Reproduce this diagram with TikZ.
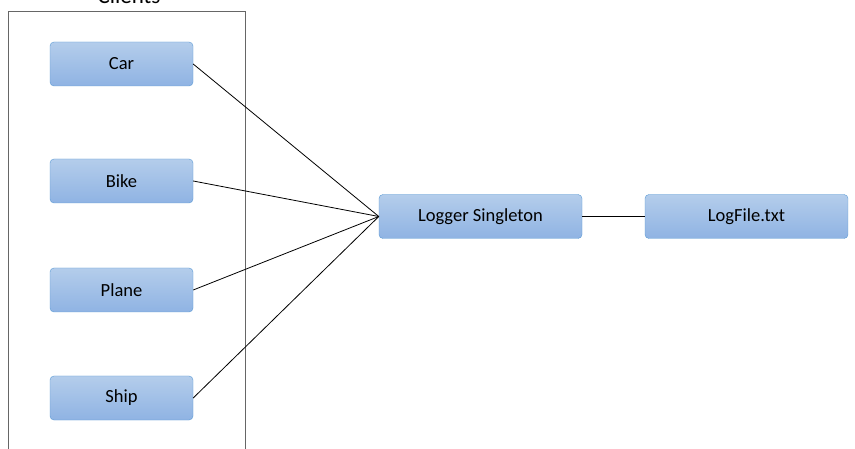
\documentclass[tikz,border=0pt]{standalone}
\usepackage{fontspec}
\setmainfont{Carlito}
\usetikzlibrary{shadings}
\definecolor{bordc}{HTML}{5B9BD5}
\definecolor{topc}{HTML}{B4CDEB}
\definecolor{botc}{HTML}{8FB3E3}
\tikzset{
  box/.style={draw=bordc, rounded corners=4pt, top color=topc, bottom color=botc, minimum width=143pt, minimum height=44pt, font=\fontsize{18.5}{20}\selectfont, inner sep=0pt},
  wide/.style={box, minimum width=203pt},
  link/.style={draw=black, line width=0.8pt}
}
\begin{document}
\begin{tikzpicture}[x=1pt,y=-1pt]
\useasboundingbox (0,0) rectangle (855,449);
\fill[white] (0,0) rectangle (855,449);
\draw[gray!80!black, line width=0.7pt] (8,460) -- (8,11) -- (245,11) -- (245,460);
\node[font=\fontsize{23}{25}\selectfont] (title) at (129,-4) {Clients};
\node[box] (car) at (121.5,64) {Car};
\node[box] (bike) at (121.5,181) {Bike};
\node[box] (plane) at (121.5,290) {Plane};
\node[box] (ship) at (121.5,398) {Ship};
\node[wide] (logger) at (480.5,216.5) {Logger Singleton};
\node[wide] (logfile) at (746.5,216.5) {LogFile.txt};
\foreach \n in {car,bike,plane,ship} \draw[link] (\n.east) -- (logger.west);
\draw[link] (logger) -- (logfile);
\end{tikzpicture}
\end{document}
